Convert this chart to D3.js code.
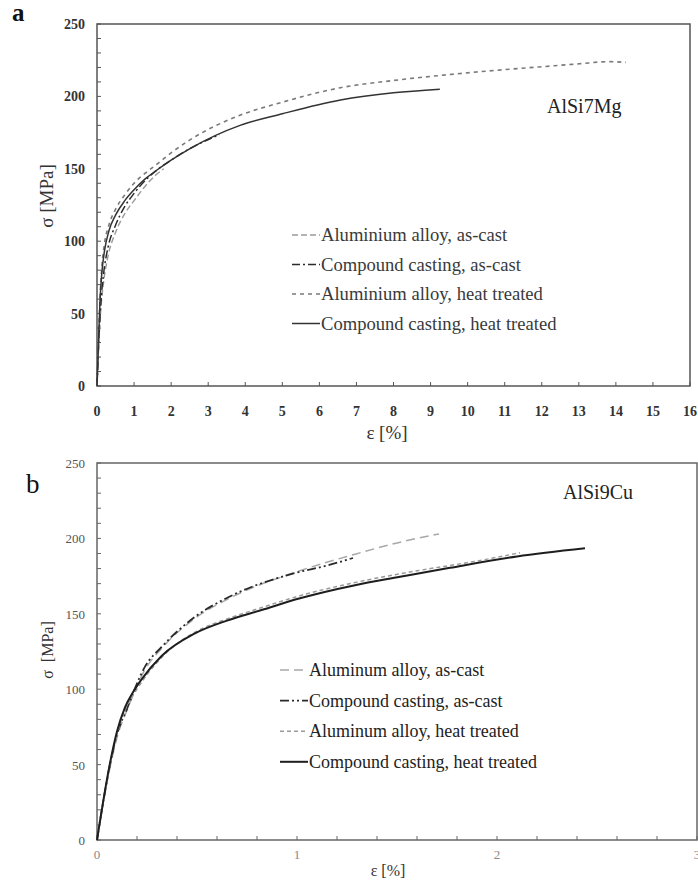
<html>
<head>
	<title>stress strain</title>
	<style>
		body { margin: 0; background-color: #ffffff; }
		text { font-family: 'Liberation Serif', 'DejaVu Serif', serif; }
	</style>
</head>

<body>

<div id="dataviz"></div>

<script src="https://d3js.org/d3.v7.min.js"></script>

<script>

	//panel a data -- AlSi7Mg, strain [%] and stress [MPa]
	var aAlloyCast = [[0,0],[0.05,30],[0.1,52],[0.18,72],[0.3,90],[0.5,106],[0.75,119],[1,128],[1.3,138],[1.6,146],[1.8,150]];
	var aCompCast = [[0,0],[0.05,32],[0.1,56],[0.18,78],[0.3,96],[0.5,111],[0.75,124],[1,133],[1.3,142],[1.61,149],[2,156],[2.51,164],[3.3,173.5]];
	var aAlloyHeat = [[0,0],[0.04,30],[0.08,60],[0.13,82],[0.2,98],[0.32,111],[0.5,122],[0.75,132],[1,140],[1.3,147],[1.61,153],[2,161],[2.51,170],[3.86,187],[5,196],[6.57,206],[8,211],[9.27,214.5],[11,218.5],[12,220.5],[13,222.5],[13.8,224],[14.27,223.5]];
	var aCompHeat = [[0,0],[0.04,30],[0.08,58],[0.13,78],[0.2,93],[0.32,107],[0.5,118],[0.75,128],[1,135.5],[1.3,143],[1.61,149],[2,156],[2.51,164],[3.86,180],[5,188],[6.57,197.5],[8,202.5],[9.25,205]];

	//panel b data -- AlSi9Cu
	var bAlloyCast = [[0,0],[0.065,48],[0.1,68],[0.15,86],[0.24,113],[0.323,127],[0.49,147],[0.657,160],[0.99,177.5],[1.29,189.5],[1.5,197],[1.71,203]];
	var bCompCast = [[0,0],[0.065,50],[0.1,70],[0.15,87],[0.24,115],[0.323,128],[0.49,148],[0.657,161],[0.99,177],[1.15,182],[1.28,187]];
	var bAlloyHeat = [[0,0],[0.065,50],[0.1,70],[0.14,86],[0.2,100],[0.33,122],[0.5,138.5],[0.66,147],[0.82,154],[1.015,162],[1.3,171],[1.6,178.5],[1.9,185],[2.115,190.5]];
	var bCompHeat = [[0,0],[0.065,51],[0.1,72],[0.14,88],[0.18,98],[0.22,106],[0.323,122],[0.49,137],[0.65,145.5],[0.823,152.5],[1.015,160.3],[1.29,169],[1.515,174.5],[1.765,180.5],[2.1,188],[2.44,193.4]];

	//legend labels and axis ticks
	var aNames = ['Aluminium alloy, as-cast','Compound casting, as-cast','Aluminium alloy, heat treated','Compound casting, heat treated'];
	var bNames = ['Aluminum alloy, as-cast','Compound casting, as-cast','Aluminum alloy, heat treated','Compound casting, heat treated'];
	var aXTicks = d3.range(0, 17, 1);
	var bXTicks = [0, 1, 2, 3];
	var bXMinor = d3.range(0, 3.01, 0.2);
	var yTicks = [0, 50, 100, 150, 200, 250];
	var yMinor = d3.range(0, 251, 10);

	var width = 698;
	var height = 881;

	var svg = d3.select('#dataviz')
		.append('svg')
		.attr('width', width)
		.attr('height', height);

	//line looks for the four series (same order as the legend)
	var aStyles = [
		{color: '#9a9a9a', dash: '6,3', w: 1.4},
		{color: '#2a2a2a', dash: '8,3,2,3', w: 1.5},
		{color: '#7a7a7a', dash: '4,4', w: 1.6},
		{color: '#333333', dash: null, w: 1.5}
	];
	var bStyles = [
		{color: '#a8a8a8', dash: '9,5', w: 1.5},
		{color: '#2a2a2a', dash: '9,3,2,3,2,3', w: 1.8},
		{color: '#9a9a9a', dash: '4,3', w: 1.5},
		{color: '#1e1e1e', dash: null, w: 2}
	];

	function drawPanel(p) {

		var x = d3.scaleLinear().domain(p.xDomain).range([p.left, p.right]);
		var y = d3.scaleLinear().domain([0, 250]).range([p.bottom, p.top]);

		var g = svg.append('g');

		//frame
		g.append('rect')
			.attr('x', p.left)
			.attr('y', p.top)
			.attr('width', p.right - p.left)
			.attr('height', p.bottom - p.top)
			.attr('fill', 'none')
			.attr('stroke', p.frame)
			.attr('stroke-width', 1.5);

		//inside ticks on the x axis
		g.selectAll('.xtick')
			.data(p.xMinor)
			.enter()
			.append('line')
			.attr('x1', function(d){ return x(d); })
			.attr('x2', function(d){ return x(d); })
			.attr('y1', p.bottom)
			.attr('y2', p.bottom - 4)
			.attr('stroke', p.frame)
			.attr('stroke-width', 1);

		//inside ticks on the y axis
		g.selectAll('.ytick')
			.data(yMinor)
			.enter()
			.append('line')
			.attr('x1', p.left)
			.attr('x2', p.left + 4)
			.attr('y1', function(d){ return y(d); })
			.attr('y2', function(d){ return y(d); })
			.attr('stroke', p.frame)
			.attr('stroke-width', 1);

		//tick labels
		g.selectAll('.xlabel')
			.data(p.xTicks)
			.enter()
			.append('text')
			.attr('x', function(d){ return x(d); })
			.attr('y', p.bottom + p.xLabelDy)
			.attr('text-anchor', 'middle')
			.attr('font-size', p.tickSize)
			.attr('font-weight', p.tickWeight)
			.attr('fill', p.xTickColor)
			.text(function(d){ return d; });

		g.selectAll('.ylabel')
			.data(yTicks)
			.enter()
			.append('text')
			.attr('x', p.left - 12)
			.attr('y', function(d){ return y(d) + 5; })
			.attr('text-anchor', 'end')
			.attr('font-size', p.tickSize)
			.attr('font-weight', p.tickWeight)
			.attr('fill', p.yTickColor)
			.text(function(d){ return d; });

		//axis titles
		g.append('text')
			.attr('transform', 'translate(' + (p.left - 44) + ',' + p.yTitleY + ') rotate(-90)')
			.attr('text-anchor', 'middle')
			.attr('font-size', p.titleSize)
			.attr('fill', '#333')
			.attr('xml:space', 'preserve')
			.text(p.yTitle);

		g.append('text')
			.attr('x', p.xTitleX)
			.attr('y', p.xTitleY)
			.attr('text-anchor', 'middle')
			.attr('font-size', p.titleSize)
			.attr('fill', '#333')
			.text('ε [%]');

		//curves
		var line = d3.line()
			.x(function(d){ return x(d[0]); })
			.y(function(d){ return y(d[1]); })
			.curve(d3.curveMonotoneX);

		p.series.forEach(function(s, i){
			g.append('path')
				.datum(s)
				.attr('d', line)
				.attr('fill', 'none')
				.attr('stroke', p.styles[i].color)
				.attr('stroke-width', p.styles[i].w)
				.attr('stroke-dasharray', p.styles[i].dash);
		});

		//legend
		p.names.forEach(function(n, i){
			var ly = p.legendY + i * p.legendGap;
			g.append('line')
				.attr('x1', p.legendX)
				.attr('x2', p.legendX + 28)
				.attr('y1', ly)
				.attr('y2', ly)
				.attr('stroke', p.styles[i].color)
				.attr('stroke-width', p.styles[i].w)
				.attr('stroke-dasharray', p.styles[i].dash);
			g.append('text')
				.attr('x', p.legendX + 29)
				.attr('y', ly + 6)
				.attr('font-size', p.legendSize)
				.attr('fill', p.legendColor)
				.text(n);
		});

		//alloy name and panel letter
		g.append('text')
			.attr('x', p.nameX)
			.attr('y', p.nameY)
			.attr('font-size', 20)
			.attr('fill', '#222')
			.text(p.alloy);

		g.append('text')
			.attr('x', p.letterX)
			.attr('y', p.letterY)
			.attr('font-size', p.letterSize)
			.attr('font-weight', p.letterWeight)
			.attr('fill', '#111')
			.text(p.letter);
	}

	drawPanel({
		left: 97, right: 690, top: 24, bottom: 386,
		xDomain: [0, 16], xTicks: aXTicks, xMinor: aXTicks,
		frame: '#555', tickSize: 14, tickWeight: 'bold', xTickColor: '#333', yTickColor: '#333', xLabelDy: 30,
		yTitle: 'σ [MPa]', yTitleY: 196, titleSize: 19, xTitleX: 387, xTitleY: 439,
		series: [aAlloyCast, aCompCast, aAlloyHeat, aCompHeat], styles: aStyles, names: aNames,
		legendX: 292, legendY: 235, legendGap: 29.5, legendColor: '#3a3a3a', legendSize: 18.6,
		alloy: 'AlSi7Mg', nameX: 547, nameY: 113,
		letter: 'a', letterX: 12, letterY: 21, letterSize: 25, letterWeight: 'bold'
	});

	drawPanel({
		left: 97, right: 697, top: 463, bottom: 840,
		xDomain: [0, 3], xTicks: bXTicks, xMinor: bXMinor,
		frame: '#666', tickSize: 13, tickWeight: 'normal', xTickColor: '#888', yTickColor: '#555', xLabelDy: 19,
		yTitle: 'σ  [MPa]', yTitleY: 650, titleSize: 16, xTitleX: 388, xTitleY: 876,
		series: [bAlloyCast, bCompCast, bAlloyHeat, bCompHeat], styles: bStyles, names: bNames,
		legendX: 280, legendY: 670, legendGap: 30.6, legendColor: '#222', legendSize: 18,
		alloy: 'AlSi9Cu', nameX: 563, nameY: 499,
		letter: 'b', letterX: 26, letterY: 493, letterSize: 27, letterWeight: 'normal'
	});

</script>
</body>

</html>
